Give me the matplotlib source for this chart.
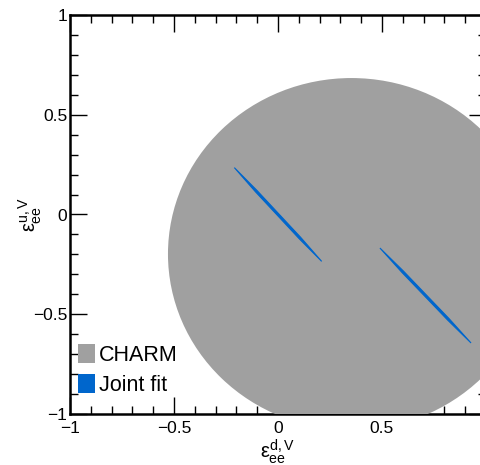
import matplotlib
matplotlib.use('Agg')
import matplotlib.pyplot as plt
from matplotlib.patches import Circle, Polygon, Patch
from matplotlib.ticker import MultipleLocator

plt.rcParams['font.family'] = ['Liberation Sans', 'DejaVu Sans']
plt.rcParams['mathtext.fontset'] = 'custom'
plt.rcParams['mathtext.rm'] = 'Liberation Sans'
plt.rcParams['mathtext.it'] = 'Liberation Sans'
plt.rcParams['mathtext.bf'] = 'Liberation Sans:bold'

# CHARM allowed region (circle in the eps_d / eps_u plane)
charm_center = (0.353, -0.198)
charm_radius = 0.882

# joint fit bands, outline vertices
joint_a_x = [-0.210, -0.1015, 0.0035, 0.1085, 0.210, 0.1015, -0.0035, -0.1085]
joint_a_y = [0.235, 0.121, 0.0035, -0.114, -0.235, -0.121, -0.0035, 0.114]
joint_b_x = [0.490, 0.603, 0.7125, 0.822, 0.928, 0.815, 0.7055, 0.596]
joint_b_y = [-0.168, -0.2835, -0.4025, -0.5215, -0.644, -0.5285, -0.4095, -0.2905]

xticks = [-1, -0.5, 0, 0.5]
yticks = [-1, -0.5, 0, 0.5, 1]

gray = '#a0a0a0'
blue = '#0066cc'

fig = plt.figure(figsize=(4.81, 4.65), dpi=100)
ax = fig.add_axes([70 / 481, 51 / 465, 416 / 481, 399 / 465])
ax.set_xlim(-1, 1)
ax.set_ylim(-1, 1)

ax.add_patch(Circle(charm_center, charm_radius, facecolor=gray, edgecolor='none', zorder=3))
ax.add_patch(Polygon(list(zip(joint_a_x, joint_a_y)), closed=True, facecolor=blue,
                     edgecolor=blue, linewidth=0.8, zorder=4))
ax.add_patch(Polygon(list(zip(joint_b_x, joint_b_y)), closed=True, facecolor=blue,
                     edgecolor=blue, linewidth=0.8, zorder=4))

for s in ax.spines.values():
    s.set_linewidth(1.8)
    s.set_zorder(2)

ax.xaxis.set_minor_locator(MultipleLocator(0.1))
ax.yaxis.set_minor_locator(MultipleLocator(0.1))
ax.set_xticks(xticks)
ax.set_yticks(yticks)
ax.set_xticklabels(['\u22121', '\u22120.5', '0', '0.5'])
ax.set_yticklabels(['\u22121', '\u22120.5', '0', '0.5', '1'])
ax.tick_params(which='both', direction='in', top=True, right=True, width=1.0, labelsize=12.5)
ax.tick_params(which='major', length=12)
ax.tick_params(which='minor', length=6)
ax.tick_params(axis='x', pad=5)
ax.tick_params(axis='y', pad=2)

ax.set_xlabel('$\u03b5^{d,V}_{ee}$', fontsize=14.5)
ax.set_ylabel('$\u03b5^{u,V}_{ee}$', fontsize=14.5)
ax.xaxis.set_label_coords(0.5, -0.058)
ax.yaxis.set_label_coords(-0.062, 0.5)

handles = [Patch(facecolor=gray, edgecolor='none', label='CHARM'),
           Patch(facecolor=blue, edgecolor='none', label='Joint fit')]
ax.legend(handles=handles, loc='lower left', bbox_to_anchor=(0.01, 0.035), frameon=False,
          fontsize=15.5, handlelength=0.75, handleheight=1.0, handletextpad=0.2,
          labelspacing=0.35, borderpad=0.2, borderaxespad=0.0)

fig.savefig('out.png', dpi=100)
